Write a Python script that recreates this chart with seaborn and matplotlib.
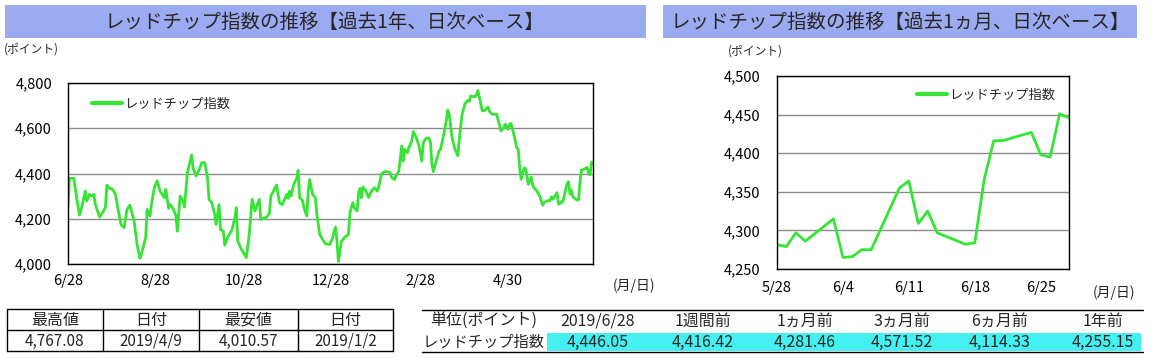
import matplotlib
matplotlib.use("Agg")
import matplotlib.pyplot as plt
import seaborn as sns
import pandas as pd
from matplotlib.patches import Rectangle

# 過去1年 : days after 2018/6/28 and index value
year_days = [0, 1, 4, 6, 8, 10, 12, 13, 15, 16, 18, 19, 22, 24, 26, 27, 29, 31, 33, 35,
             37, 39, 41, 43, 44, 46, 48, 50, 51, 54, 55, 57, 58, 60, 62, 64, 67, 68, 70, 71,
             73, 75, 76, 78, 80, 81, 83, 86, 87, 89, 91, 93, 95, 97, 98, 100, 102, 103, 105, 106,
             108, 109, 111, 112, 114, 116, 117, 118, 120, 122, 124, 126, 128, 130, 131, 133, 134, 137, 138, 140,
             141, 143, 145, 147, 149, 151, 152, 153, 154, 155, 157, 159, 160, 161, 163, 164, 166, 167, 168, 170,
             172, 173, 175, 177, 179, 182, 184, 185, 186, 187, 188, 190, 192, 195, 196, 198, 199, 201, 202, 203,
             204, 205, 207, 209, 211, 213, 215, 216, 218, 220, 222, 224, 225, 227, 228, 230, 232, 233, 234, 236,
             237, 239, 240, 242, 244, 246, 247, 249, 251, 252, 253, 254, 256, 258, 259, 261, 263, 264, 265, 267,
             269, 271, 272, 274, 276, 278, 279, 280, 282, 283, 284, 285, 288, 290, 292, 293, 295, 298, 301, 303,
             304, 306, 307, 308, 310, 312, 313, 314, 315, 317, 318, 319, 320, 322, 323, 324, 326, 328, 330, 331]
year_vals = [4255, 4379, 4379, 4293, 4216, 4263, 4322, 4278, 4308, 4300, 4308, 4263, 4207, 4227, 4249, 4349, 4334, 4330, 4308, 4234,
             4172, 4160, 4241, 4260, 4237, 4190, 4087, 4025, 4043, 4117, 4241, 4212, 4263, 4337, 4367, 4322, 4293, 4330, 4246, 4263,
             4245, 4215, 4145, 4300, 4278, 4252, 4404, 4482, 4423, 4389, 4414, 4448, 4448, 4382, 4286, 4271, 4219, 4175, 4263, 4153,
             4145, 4083, 4119, 4128, 4153, 4204, 4249, 4102, 4072, 4049, 4028, 4131, 4286, 4234, 4252, 4286, 4197, 4204, 4207, 4222,
             4300, 4325, 4349, 4271, 4262, 4293, 4308, 4290, 4322, 4300, 4352, 4379, 4414, 4293, 4281, 4249, 4212, 4322, 4374, 4308,
             4293, 4219, 4131, 4109, 4089, 4086, 4116, 4145, 4163, 4101, 4010.57, 4098, 4116, 4131, 4227, 4271, 4249, 4234, 4315, 4334,
             4293, 4340, 4325, 4293, 4322, 4337, 4322, 4340, 4399, 4408, 4408, 4404, 4382, 4373, 4389, 4411, 4522, 4455, 4507, 4492,
             4514, 4544, 4585, 4562, 4522, 4455, 4537, 4556, 4556, 4537, 4441, 4408, 4455, 4500, 4507, 4566, 4632, 4680, 4662, 4559,
             4507, 4478, 4551, 4662, 4709, 4724, 4718, 4743, 4739, 4739, 4748, 4767.08, 4677, 4680, 4694, 4674, 4662, 4662, 4588, 4603,
             4618, 4596, 4618, 4621, 4573, 4514, 4507, 4426, 4374, 4423, 4423, 4396, 4352, 4385, 4349, 4337, 4322, 4300, 4260, 4271]

# 過去1ヵ月 (daily)
month_dates = ["2019-05-28", "2019-05-29", "2019-05-30", "2019-05-31", "2019-06-03", "2019-06-04",
               "2019-06-05", "2019-06-06", "2019-06-07", "2019-06-10", "2019-06-11", "2019-06-12",
               "2019-06-13", "2019-06-14", "2019-06-17", "2019-06-18", "2019-06-19", "2019-06-20",
               "2019-06-21", "2019-06-24", "2019-06-25", "2019-06-26", "2019-06-27", "2019-06-28"]
month_vals = [4281.46, 4279, 4297, 4286, 4315, 4265, 4266, 4275, 4275, 4355, 4364, 4309,
              4325, 4297, 4282, 4284, 4366, 4416, 4416.42, 4427, 4398, 4395, 4451, 4446.05]

year_ticks = ["2018-06-28", "2018-08-28", "2018-10-28", "2018-12-28", "2019-02-28", "2019-04-30"]
year_tick_labels = ["6/28", "8/28", "10/28", "12/28", "2/28", "4/30"]
month_ticks = ["2019-05-28", "2019-06-04", "2019-06-11", "2019-06-18", "2019-06-25"]
month_tick_labels = ["5/28", "6/4", "6/11", "6/18", "6/25"]

hl_header = ["最高値", "日付", "最安値", "日付"]
hl_values = ["4,767.08", "2019/4/9", "4,010.57", "2019/1/2"]
cmp_header = ["単位(ポイント)", "2019/6/28", "1週間前", "1ヵ月前", "3ヵ月前", "6ヵ月前", "1年前"]
cmp_values = ["レッドチップ指数", "4,446.05", "4,416.42", "4,281.46", "4,571.52", "4,114.33", "4,255.15"]

series_name = "レッドチップ指数"
green = "#36E436"
bar_color = "#9BABF2"

sns.set_theme(style="white")
plt.rcParams['font.family'] = ['Noto Sans CJK JP', 'DejaVu Sans']

base = pd.Timestamp("2018-06-28")
year_df = pd.DataFrame({"date": [base + pd.Timedelta(days=d) for d in year_days], "value": year_vals})
month_df = pd.DataFrame({"date": pd.to_datetime(month_dates), "value": month_vals})
year_df = pd.concat([year_df, month_df], ignore_index=True)

fig = plt.figure(figsize=(11.56, 3.58), dpi=100)
fig.patch.set_facecolor("white")

# background layer in pixel coords: title bars, labels, tables
bg = fig.add_axes([0, 0, 1, 1])
bg.set_xlim(0, 1156)
bg.set_ylim(358, 0)
bg.axis("off")


def style_axes(ax, yticks, ypad, xpad):
    for s in ax.spines.values():
        s.set_visible(True)
        s.set_color("black")
        s.set_linewidth(1)
    ax.set_yticks(yticks)
    ax.set_yticklabels([f"{v:,}" for v in yticks])
    ax.yaxis.grid(True, color="#8c8c8c", linewidth=1)
    ax.xaxis.grid(False)
    ax.tick_params(axis="x", direction="in", length=4.5, width=0.8, color="black",
                   pad=xpad, labelsize=10.5, labelcolor="black")
    ax.tick_params(axis="y", length=0, pad=ypad, labelsize=10.5, labelcolor="black")
    ax.set_xlabel("")
    ax.set_ylabel("")


# left chart : 1 year
ax1 = fig.add_axes([68 / 1156, 1 - 264 / 358, 525 / 1156, 181 / 358])
sns.lineplot(data=year_df, x="date", y="value", ax=ax1, color=green, linewidth=2.0, label=series_name)
ax1.set_xlim(base, pd.Timestamp("2019-06-28"))
ax1.set_ylim(4000, 4800)
ax1.set_xticks(pd.to_datetime(year_ticks))
ax1.set_xticklabels(year_tick_labels)
style_axes(ax1, list(range(4000, 4801, 200)), 11.5, 7)
leg = ax1.legend(loc="center left", bbox_to_anchor=(0.045, 0.884), frameon=False, fontsize=9.5,
                 handlelength=2.3, handletextpad=0.15, borderpad=0, borderaxespad=0)
for h in leg.get_lines():
    h.set_linewidth(3)

# right chart : 1 month
ax2 = fig.add_axes([777 / 1156, 1 - 269 / 358, 292 / 1156, 193 / 358])
sns.lineplot(data=month_df, x="date", y="value", ax=ax2, color=green, linewidth=2.0, label=series_name)
ax2.set_xlim(pd.Timestamp("2019-05-28"), pd.Timestamp("2019-06-28"))
ax2.set_ylim(4250, 4500)
ax2.set_xticks(pd.to_datetime(month_ticks))
ax2.set_xticklabels(month_tick_labels)
style_axes(ax2, list(range(4250, 4501, 50)), 12, 8.5)
leg = ax2.legend(loc="center left", bbox_to_anchor=(0.479, 0.902), frameon=False, fontsize=9.5,
                 handlelength=2.3, handletextpad=0.15, borderpad=0, borderaxespad=0)
for h in leg.get_lines():
    h.set_linewidth(3)

# title bars
bg.add_patch(Rectangle((5, 5), 641, 33, color=bar_color, lw=0))
bg.add_patch(Rectangle((663, 5), 474, 33, color=bar_color, lw=0))
bg.text(325, 22, "レッドチップ指数の推移【過去1年、日次ベース】", ha="center", va="center", fontsize=14)
bg.text(900, 22, "レッドチップ指数の推移【過去1ヵ月、日次ベース】", ha="center", va="center", fontsize=14)

bg.text(4, 49, "(ポイント)", ha="left", va="center", fontsize=8.5)
bg.text(728, 51, "(ポイント)", ha="left", va="center", fontsize=8.5)
bg.text(613, 286, "(月/日)", ha="left", va="center", fontsize=10)
bg.text(1093, 293, "(月/日)", ha="left", va="center", fontsize=10)

# high / low table
xs = [7, 103, 199, 298, 393]
ys = [309, 330, 351]
for y in ys:
    bg.plot([xs[0], xs[-1]], [y, y], color="black", lw=1)
for x in xs:
    bg.plot([x, x], [ys[0], ys[-1]], color="black", lw=1)
for i in range(4):
    cx = (xs[i] + xs[i + 1]) / 2
    bg.text(cx, 320, hl_header[i], ha="center", va="center", fontsize=11.5)
    bg.text(cx, 341, hl_values[i], ha="center", va="center", fontsize=11)

# comparison table
bg.add_patch(Rectangle((547, 333), 594, 18, color="#45F0F0", lw=0))
bg.plot([422, 1143], [310, 310], color="black", lw=1)
bg.plot([422, 1143], [352, 352], color="black", lw=1)
col_x = [484, 598, 703, 805, 902, 1000, 1103]
for i in range(len(col_x)):
    bg.text(col_x[i], 321, cmp_header[i], ha="center", va="center", fontsize=11.5)
    bg.text(col_x[i], 342, cmp_values[i], ha="center", va="center", fontsize=11.5 if i else 11)

fig.savefig("out.png", dpi=100)
